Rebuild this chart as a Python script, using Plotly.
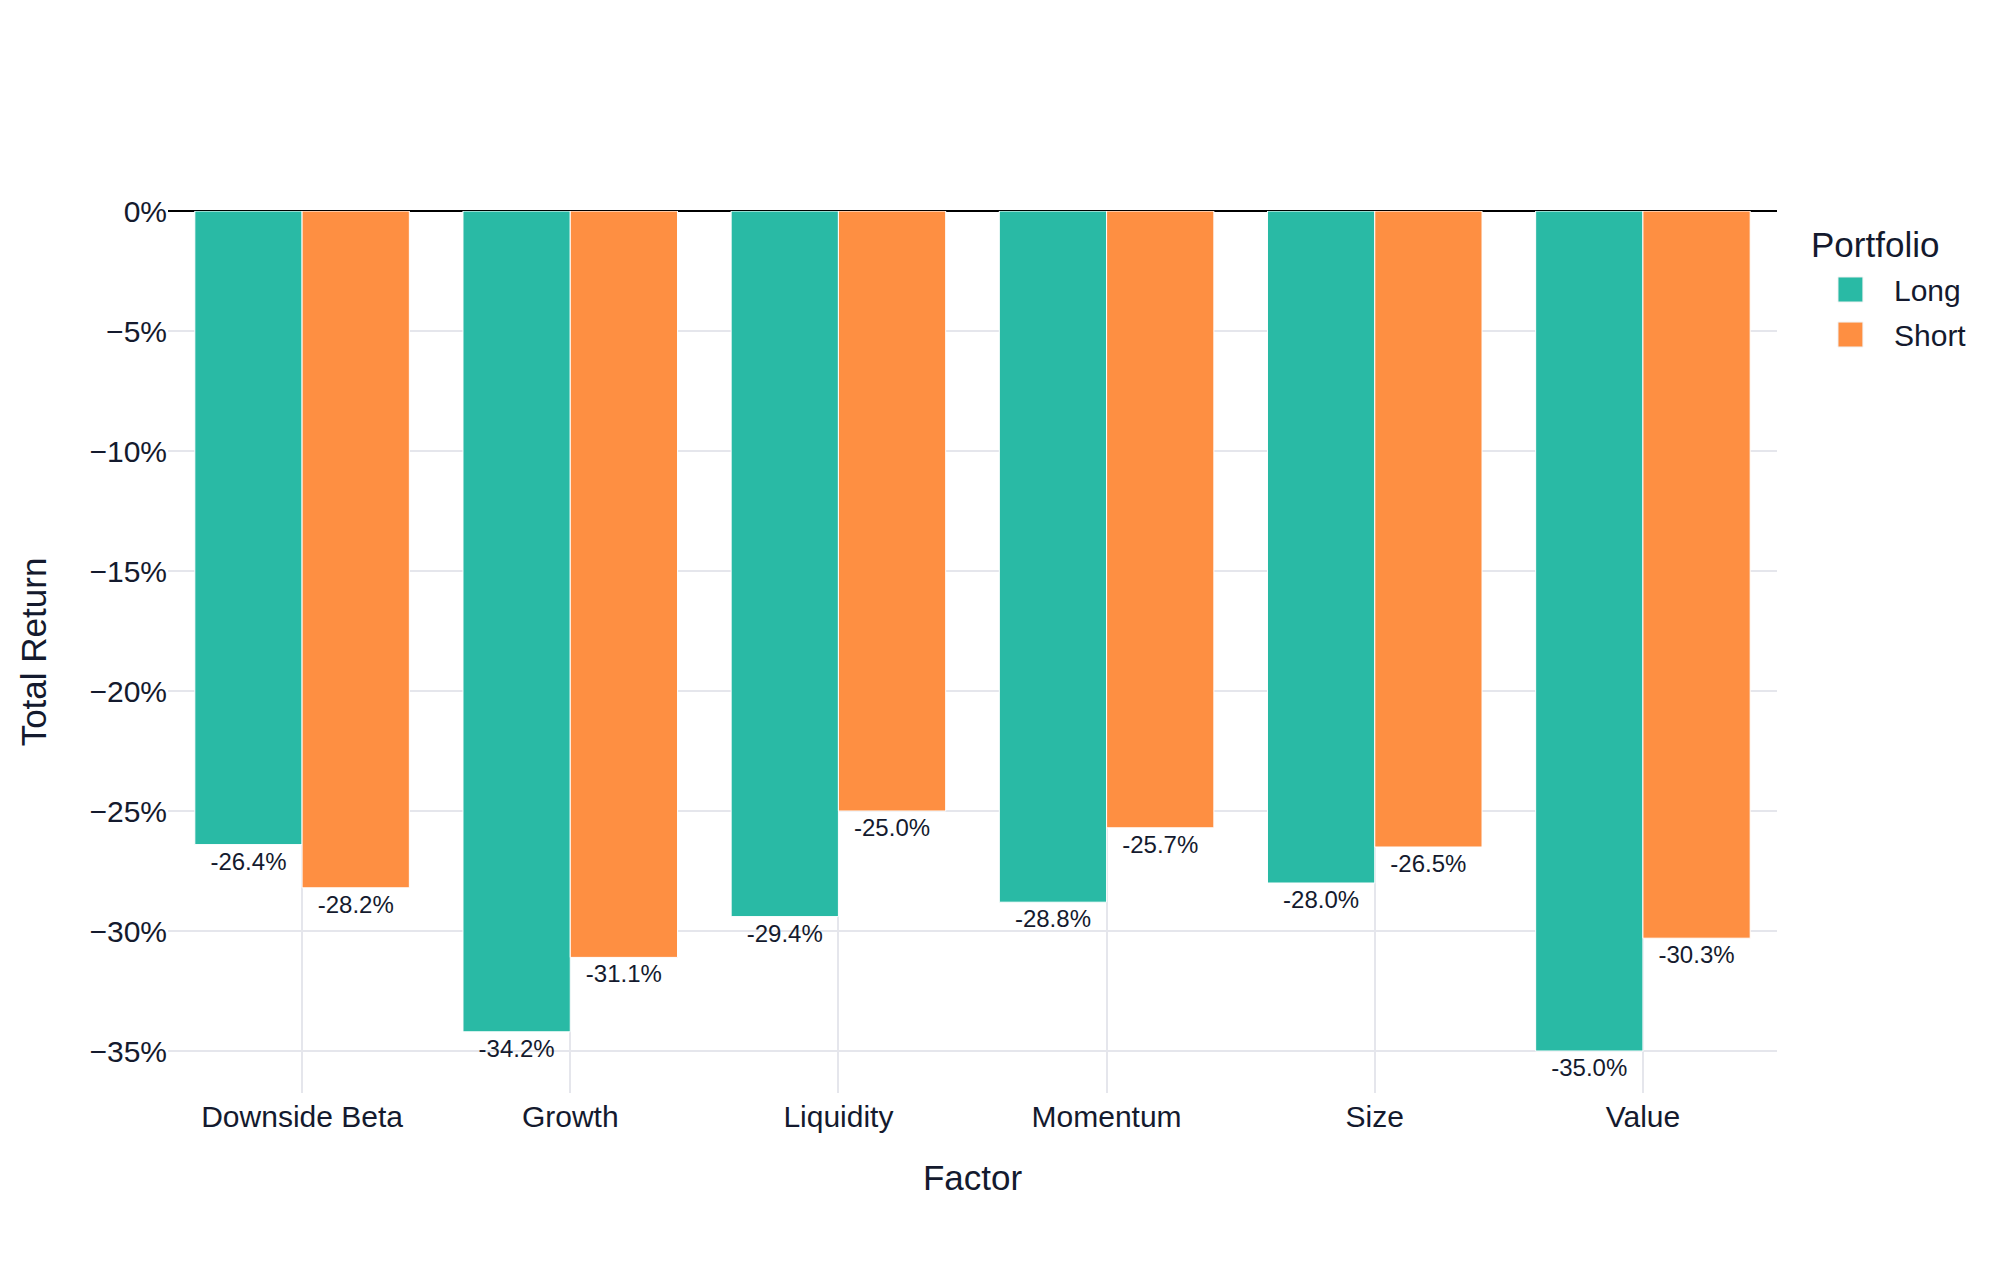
import plotly.graph_objects as go

factors = ["Downside Beta", "Growth", "Liquidity", "Momentum", "Size", "Value"]
long_vals = [-26.4, -34.2, -29.4, -28.8, -28.0, -35.0]
short_vals = [-28.2, -31.1, -25.0, -25.7, -26.5, -30.3]
series_names = ["Long", "Short"]
colors = ["#29BAA5", "#FE8F42"]
legend_title = "Portfolio"
FONT = "Liberation Sans, Arial, sans-serif"
TXT = "#141a2e"
GRID = "#E5E6EC"

fig = go.Figure()
for name, vals, col in zip(series_names, [long_vals, short_vals], colors):
    fig.add_trace(go.Bar(
        name=name, x=factors, y=[v / 100 for v in vals],
        text=[f"{v:.1f}%" for v in vals], textposition="outside",
        textfont=dict(size=24, color=TXT, family=FONT),
        marker=dict(color=col, line=dict(color="white", width=1)),
        cliponaxis=False, showlegend=False,
    ))

# Hand-drawn legend (large swatches, as in the reference)
fig.add_annotation(text=legend_title, xref="paper", yref="paper", x=1.0199, y=0.9620,
                   xanchor="left", yanchor="middle", showarrow=False,
                   font=dict(size=35, color=TXT, family=FONT))
sw_y = [(0.8968, 0.9252), (0.8458, 0.8741)]
lab_y = [0.9099, 0.8594]
for name, col, (y0, y1), ly in zip(series_names, colors, sw_y, lab_y):
    fig.add_shape(type="rect", xref="paper", yref="paper", x0=1.0379, x1=1.0534,
                  y0=y0, y1=y1, fillcolor=col, line=dict(color="#F2F2F2", width=1))
    fig.add_annotation(text=name, xref="paper", yref="paper", x=1.0715, y=ly,
                       xanchor="left", yanchor="middle", showarrow=False,
                       font=dict(size=30, color=TXT, family=FONT))

fig.update_layout(
    template="plotly_white",
    width=2000, height=1263,
    barmode="group", bargap=0.2,
    font=dict(family=FONT, size=30, color=TXT),
    margin=dict(l=160, r=231, t=203, b=178),
    showlegend=False,
)
fig.update_xaxes(title=dict(text="Factor", font=dict(size=35), standoff=33),
                 tickfont=dict(size=30), ticklabelstandoff=3,
                 showgrid=True, gridcolor=GRID, gridwidth=2)
fig.update_yaxes(title=dict(text="Total Return", font=dict(size=35), standoff=32),
                 range=[-0.3675, 0], tickformat=".0%", dtick=0.05, tickfont=dict(size=30),
                 gridcolor=GRID, gridwidth=2,
                 zeroline=True, zerolinecolor="black", zerolinewidth=2)
fig.write_html("out.html")
